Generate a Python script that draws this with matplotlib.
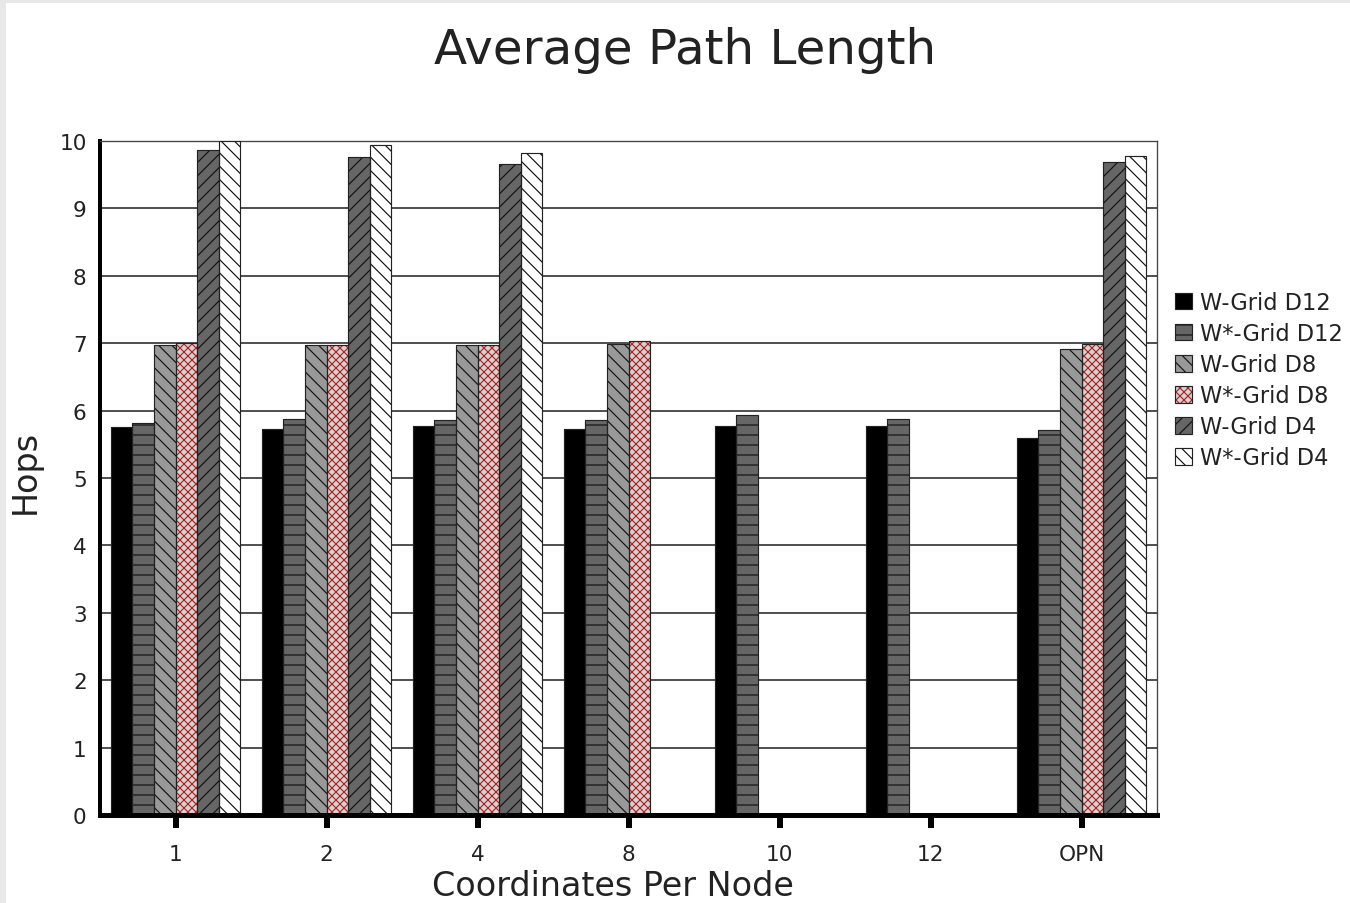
import numpy as np
import matplotlib.pyplot as plt
from matplotlib.patches import Rectangle

# datos -----------------------------------------------------
categorias = ['1', '2', '4', '8', '10', '12', 'OPN']
series = ['W-Grid D12', 'W*-Grid D12', 'W-Grid D8', 'W*-Grid D8', 'W-Grid D4', 'W*-Grid D4']
wgrid_d12 = [5.75, 5.72, 5.77, 5.73, 5.77, 5.77, 5.60]
wsgrid_d12 = [5.82, 5.88, 5.86, 5.86, 5.93, 5.87, 5.71]
wgrid_d8 = [6.97, 6.97, 6.97, 6.99, 0, 0, 6.92]
wsgrid_d8 = [7.00, 6.97, 6.97, 7.03, 0, 0, 6.99]
wgrid_d4 = [9.87, 9.76, 9.66, 0, 0, 0, 9.69]
wsgrid_d4 = [10.0, 9.94, 9.82, 0, 0, 0, 9.78]
valores = [wgrid_d12, wsgrid_d12, wgrid_d8, wsgrid_d8, wgrid_d4, wsgrid_d4]

# estilos de cada serie: relleno, trama, color de trama
rellenos = ['#000000', '#666666', '#999999', '#d3d3d3', '#666666', '#ffffff']
tramas = [None, '--', '\\' * 3, 'x' * 5, '///', '\\' * 3]
color_trama = ['#000000', '#111111', '#111111', '#b22222', '#111111', '#111111']

plt.rcParams['font.family'] = 'DejaVu Sans'
plt.rcParams['hatch.linewidth'] = 0.7

fig = plt.figure(figsize=(11.25, 7.5333), dpi=120)
fig.patch.set_facecolor('#e8e8e8')
fig.patches.append(Rectangle((6 / 1350, 0), 1, 1 - 4 / 904, transform=fig.transFigure,
                             facecolor='white', edgecolor='none', zorder=-10))

ax = fig.add_axes([100 / 1350, 1 - 816 / 904, 1057 / 1350, 674 / 904])
ax.set_facecolor('white')

x = np.arange(len(categorias))
ancho = 0.143
handles = []
for i, (nombre, vals) in enumerate(zip(series, valores)):
    pos = x + (i - 2.5) * ancho
    base = ax.bar(pos, vals, ancho, color=rellenos[i], hatch=tramas[i],
                  edgecolor=color_trama[i], linewidth=0, zorder=3)
    borde = ax.bar(pos, vals, ancho, fill=False, edgecolor='#222222',
                   linewidth=0.7, zorder=4)
    handles.append((base.patches[0], borde.patches[0]))

ax.set_xlim(-0.5, len(categorias) - 0.5)
ax.set_ylim(0, 10)
ax.set_yticks(range(0, 11))
ax.set_xticks(x)
ax.set_xticklabels(categorias)
ax.yaxis.grid(True, color='#1a1a1a', linewidth=0.9)
ax.set_axisbelow(True)

ax.tick_params(axis='y', length=0, pad=8, labelsize=13, colors='#222222')
ax.tick_params(axis='x', length=7.5, width=3.6, pad=10, labelsize=13,
               color='black', labelcolor='#222222')
for lado in ['top', 'right']:
    ax.spines[lado].set_color('#444444')
    ax.spines[lado].set_linewidth(0.8)
ax.spines['left'].set_linewidth(2.4)
ax.spines['left'].set_color('black')
ax.spines['bottom'].set_linewidth(3)
ax.spines['bottom'].set_color('black')
ax.spines['bottom'].set_zorder(5)

fig.text(685 / 1350, 1 - 51 / 904, 'Average Path Length', ha='center', va='center',
         fontsize=29, color='#222222')
fig.text(613 / 1350, 1 - 887 / 904, 'Coordinates Per Node', ha='center', va='center',
         fontsize=20, color='#222222')
fig.text(25 / 1350, 1 - 472 / 904, 'Hops', ha='center', va='center', rotation=90,
         fontsize=20, color='#222222')

fig.legend(handles, series, loc='upper left', bbox_to_anchor=(1175 / 1350, 1 - 292 / 904),
           frameon=False, fontsize=13.5, handlelength=0.75, handleheight=0.75,
           handletextpad=0.35, labelspacing=0.36, borderaxespad=0, borderpad=0,
           labelcolor='#222222')

fig.savefig('out.png', dpi=120, facecolor=fig.get_facecolor())
